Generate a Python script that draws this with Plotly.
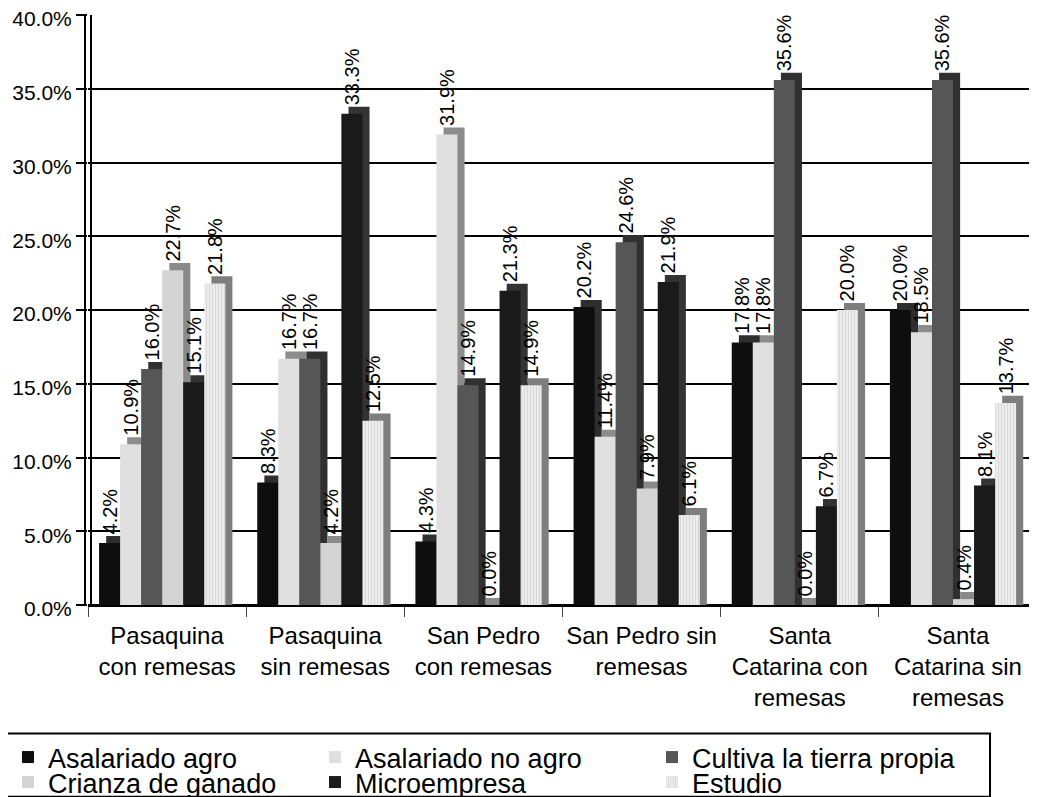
import plotly.graph_objects as go

groups = ["Pasaquina<br>con remesas", "Pasaquina<br>sin remesas", "San Pedro<br>con remesas",
          "San Pedro sin<br>remesas", "Santa<br>Catarina con<br>remesas", "Santa<br>Catarina sin<br>remesas"]

asalariado_agro = [4.2, 8.3, 4.3, 20.2, 17.8, 20.0]
asalariado_no_agro = [10.9, 16.7, 31.9, 11.4, 17.8, 18.5]
cultiva_tierra = [16.0, 16.7, 14.9, 24.6, 35.6, 35.6]
crianza_ganado = [22.7, 4.2, 0.0, 7.9, 0.0, 0.4]
microempresa = [15.1, 33.3, 21.3, 21.9, 6.7, 8.1]
estudio = [21.8, 12.5, 14.9, 6.1, 20.0, 13.7]

# name, values, face colour, depth colour, pattern
series = [
    ("Asalariado agro", asalariado_agro, "#0e0e0e", "#2e2e2e", ""),
    ("Asalariado no agro", asalariado_no_agro, "#e0e0e0", "#8c8c8c", ""),
    ("Cultiva la tierra propia", cultiva_tierra, "#565656", "#303030", ""),
    ("Crianza de ganado", crianza_ganado, "#d4d4d4", "#8a8a8a", ""),
    ("Microempresa", microempresa, "#1a1a1a", "#333333", ""),
    ("Estudio", estudio, "#ececec", "#7e7e7e", "|"),
]

W, H = 1029, 789   # page body has an 8px margin
PW = 949           # plot width in px
bar_w = 0.133
start = -0.43
depth_x = 0.045
depth_y = 0.0048

# legend slots: (left px, top px) in figure coords, 3 columns x 2 rows
leg_cols = [0, 307, 644]
leg_rows = [725, 750]

fig = go.Figure()
layout_legends = {}
for i, (name, vals, color, dcolor, pat) in enumerate(series):
    off = start + i * bar_w
    leg = "legend" if i == 0 else f"legend{i + 1}"
    # back / side block giving the 3-D look
    fig.add_trace(go.Bar(
        x=groups, y=[v / 100 + depth_y for v in vals], width=bar_w, offset=off + depth_x,
        marker=dict(color=dcolor, line=dict(width=0)), showlegend=False, hoverinfo="skip",
    ))
    fig.add_trace(go.Bar(
        name=name, x=groups, y=[v / 100 for v in vals], width=bar_w, offset=off,
        marker=dict(color=color, line=dict(width=0),
                    pattern=dict(shape=pat, fgcolor="#c4c4c4", size=3, solidity=0.35) if pat else None),
        text=[f"\u00a0{v:.1f}%" for v in vals], textposition="outside", textangle=-90,
        constraintext="none", textfont=dict(size=20, color="black"), cliponaxis=False,
        legend=leg,
    ))
    layout_legends[leg] = dict(
        orientation="h", xref="container", yref="container",
        x=leg_cols[i % 3] / W, y=1 - leg_rows[i // 3] / H, xanchor="left", yanchor="top",
        font=dict(size=27), borderwidth=0, bgcolor="rgba(0,0,0,0)",
    )

wall = [dict(type="line", xref="paper", yref="paper", x0=dx / PW, x1=dx / PW, y0=0, y1=1,
             line=dict(color="black", width=2), layer="above") for dx in (-3, 3)]
legend_box = dict(type="rect", xref="paper", yref="paper", x0=-0.098, x1=0.9505,
                  y0=-0.218, y1=-0.325, line=dict(color="black", width=2), layer="above")

fig.update_layout(
    width=W, height=H,
    margin=dict(l=80, r=0, t=7, b=192, autoexpand=False),
    paper_bgcolor="white", plot_bgcolor="white",
    font=dict(family="Liberation Sans, Arial, sans-serif", size=20, color="black"),
    barmode="overlay",
    shapes=wall + [legend_box],
    **layout_legends,
)
fig.update_yaxes(range=[0, 0.4], tickformat=".1%", dtick=0.05, showgrid=True,
                 gridcolor="black", gridwidth=2, showline=False,
                 ticks="outside", ticklen=11, tickcolor="black", tickwidth=1.5,
                 zeroline=True, zerolinecolor="black", zerolinewidth=2,
                 tickfont=dict(size=21), ticklabeloverflow="allow", ticklabelshift=4)
fig.update_xaxes(showline=True, linecolor="black", linewidth=2, ticks="outside",
                 tickson="boundaries", ticklen=10, tickangle=0, ticklabelstandoff=8,
                 tickfont=dict(size=24))

fig.write_html("out.html")
